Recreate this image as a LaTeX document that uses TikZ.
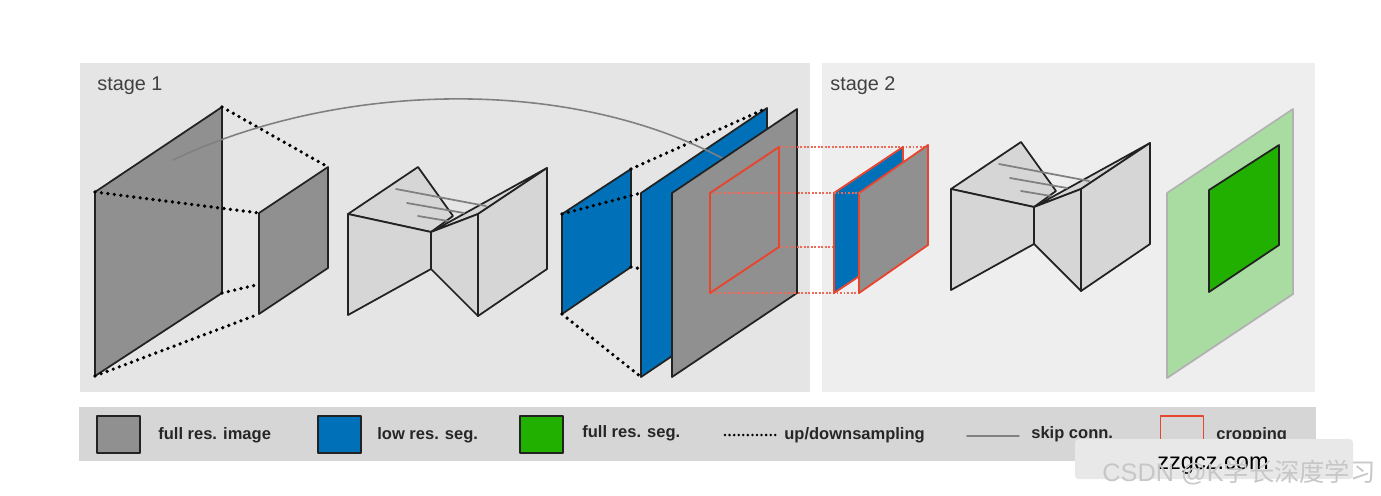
\documentclass[tikz,border=0pt]{standalone}
\usepackage{fontspec}
\setmainfont{Liberation Sans}
\newfontfamily\cjkfont{Noto Sans CJK SC}
\usepackage{tikz}
\usetikzlibrary{arrows.meta,calc}
\definecolor{unetgray}{HTML}{909090}
\definecolor{unetblue}{HTML}{0071B8}
\definecolor{unetgreen}{HTML}{22B000}
\definecolor{unetpale}{HTML}{A8DCA0}
\definecolor{unetred}{HTML}{E8452F}
\definecolor{unetlight}{HTML}{D6D6D6}
\definecolor{unetink}{HTML}{222222}

\begin{document}
\begin{tikzpicture}[x=.02cm,y=-.02cm,line cap=round,line join=round,
  plane/.style={draw=unetink,line width=1pt},
  updown/.style={black,line width=2.1pt,dash pattern=on 0pt off 3.7pt},
  skipline/.style={draw=black!50,line width=.9pt},
  cropline/.style={unetred,line width=1.05pt},
  cropdot/.style={unetred!80,line width=.6pt,line cap=butt,dash pattern=on 1.1pt off .9pt},
  legendbox/.style={minimum width=.86cm,minimum height=.74cm,inner sep=0pt,draw=unetink,line width=1pt},
  legendtext/.style={anchor=west,font=\fontsize{9.4}{11}\selectfont\bfseries,text=black!85,inner sep=0pt}]
\path[use as bounding box] (0,0) rectangle (1381,495);
\fill[white] (0,0) rectangle (1381,495);
% panels
\fill[black!10] (80,63) rectangle (810,392);
\fill[black!6.5] (822,63) rectangle (1315,392);
\fill[unetlight] (79,407) rectangle (1316,461);
\node[anchor=west,inner sep=0pt,text=black!75,font=\fontsize{11.3}{13}\selectfont] (stageone) at (97,86) {stage 1};
\node[anchor=west,inner sep=0pt,text=black!75,font=\fontsize{11.3}{13}\selectfont] (stagetwo) at (830,86) {stage 2};
\coordinate (ia) at (95,192);
\coordinate (ib) at (222,107);
\coordinate (ic) at (222,293);
\coordinate (id) at (95,376);
\coordinate (ja) at (259,213);
\coordinate (jb) at (328,167);
\coordinate (jc) at (328,268);
\coordinate (jd) at (259,314);
\coordinate (la) at (562,214);
\coordinate (lb) at (631,169);
\coordinate (lc) at (631,267);
\coordinate (ld) at (562,314);
\coordinate (ma) at (641,193);
\coordinate (mb) at (767,108);
\coordinate (mc) at (767,292);
\coordinate (md) at (641,377);
\coordinate (ca) at (710,193);
\coordinate (cb) at (779,147);
\coordinate (cc) at (779,247);
\coordinate (cd) at (710,293);
\coordinate (ea) at (834,193);
\coordinate (eb) at (903,147);
\coordinate (ec) at (903,247);
\coordinate (ed) at (834,293);
\coordinate (fa) at (859,193);
\coordinate (fb) at (928,145);
\coordinate (fc) at (928,245);
\coordinate (fd) at (859,293);
\coordinate (fe) at (928,147);
% input image and downsampling
\fill[plane,fill=unetgray] (ia)--(ib)--(ic)--(id)--cycle;
\draw[updown] (ib)--(jb);
\draw[updown] (ia)--(ja);
\draw[updown] (ic)--(jc);
\draw[updown] (id)--(jd);
\fill[plane,fill=unetgray] (ja)--(jb)--(jc)--(jd)--cycle;
% the two networks
\foreach \dx/\dy in {0/0,603/-25}{
\begin{scope}[shift={(\dx,\dy)}]
  \fill[plane,fill=unetlight] (348,214)--(418,167)--(453,216)--(431,232)--cycle;
  \fill[plane,fill=unetlight] (431,232)--(547,168)--(478,214)--cycle;
  \draw[skipline,line width=1pt] (396,189)--(486,206);
  \draw[skipline,line width=1pt] (407,203)--(464,213);
  \draw[skipline,line width=1pt] (418,216)--(448,221);
  \fill[plane,fill=unetlight] (348,214)--(431,232)--(431,269)--(348,315)--cycle;
  \fill[plane,fill=unetlight] (431,232)--(478,214)--(478,316)--(431,269)--cycle;
  \fill[plane,fill=unetlight] (478,214)--(547,168)--(547,269)--(478,316)--cycle;
\end{scope}
}
% segmentation and upsampling
\fill[plane,fill=unetblue] (la)--(lb)--(lc)--(ld)--cycle;
\draw[updown] (la)--(ma);
\draw[updown] (lc)--(mc);
\draw[updown] (ld)--(md);
\fill[plane,fill=unetblue] (ma)--(mb)--(mc)--(md)--cycle;
\draw[updown] (lb)--(mb);
\draw[skipline] (173,160) .. controls (330,85) and (560,73) .. (722,158);
\fill[plane,fill=unetgray] (672,193)--(797,109)--(797,293)--(672,377)--cycle;
% cropping
\draw[cropdot] (cb)--(fe);
\draw[cropdot] (ca)--(fa);
\draw[cropdot] (cc)--(ec);
\draw[cropdot] (cd)--(fd);
\draw[cropline] (ca)--(cb)--(cc)--(cd)--cycle;
\fill[draw=unetred,line width=1.05pt,fill=unetblue] (ea)--(eb)--(ec)--(ed)--cycle;
\fill[draw=unetred,line width=1.05pt,fill=unetgray] (fa)--(fb)--(fc)--(fd)--cycle;
\draw[cropdot] (ea)--(fa);
% result
\fill[draw=black!30,line width=1pt,fill=unetpale] (1167,193)--(1293,109)--(1293,294)--(1167,378)--cycle;
\fill[plane,fill=unetgreen] (1209,190)--(1279,145)--(1279,245)--(1209,292)--cycle;
% legend
\node[legendbox,fill=unetgray] (keyimage) at (118.5,434.5) {};
\node[legendtext] (textimage) at (158,435) {full res. image};
\node[legendbox,fill=unetblue] (keylow) at (339.5,434.5) {};
\node[legendtext] (textlow) at (377,435) {low res. seg.};
\node[legendbox,fill=unetgreen] (keyfull) at (541.5,434.5) {};
\node[legendtext] (textfull) at (582,433) {full res. seg.};
\coordinate (upa) at (725,435);
\coordinate (upb) at (776,435);
\draw[updown,line width=1.6pt,dash pattern=on 0pt off 2.6pt] (upa)--(upb);
\node[legendtext] (textup) at (784,435) {up/downsampling};
\coordinate (ska) at (967,436);
\coordinate (skb) at (1019,436);
\draw[skipline] (ska)--(skb);
\node[legendtext] (textskip) at (1031,434) {skip conn.};
\node[legendbox,draw=unetred,fill=none] (keycrop) at (1182,434.5) {};
\node[legendtext] (textcrop) at (1216,435) {cropping};
% overlay
\fill[rounded corners=2pt,fill=black!9] (1075,439) rectangle (1353,479);
\node[inner sep=0pt,font=\fontsize{13.4}{15}\selectfont] (site) at (1213,466) {zzgcz.com};
\node[inner sep=0pt,text=black!22,font=\fontsize{14.4}{16}\selectfont] (mark) at (1239,472) {CSDN @K\cjkfont 学长深度学习};
\end{tikzpicture}
\end{document}
